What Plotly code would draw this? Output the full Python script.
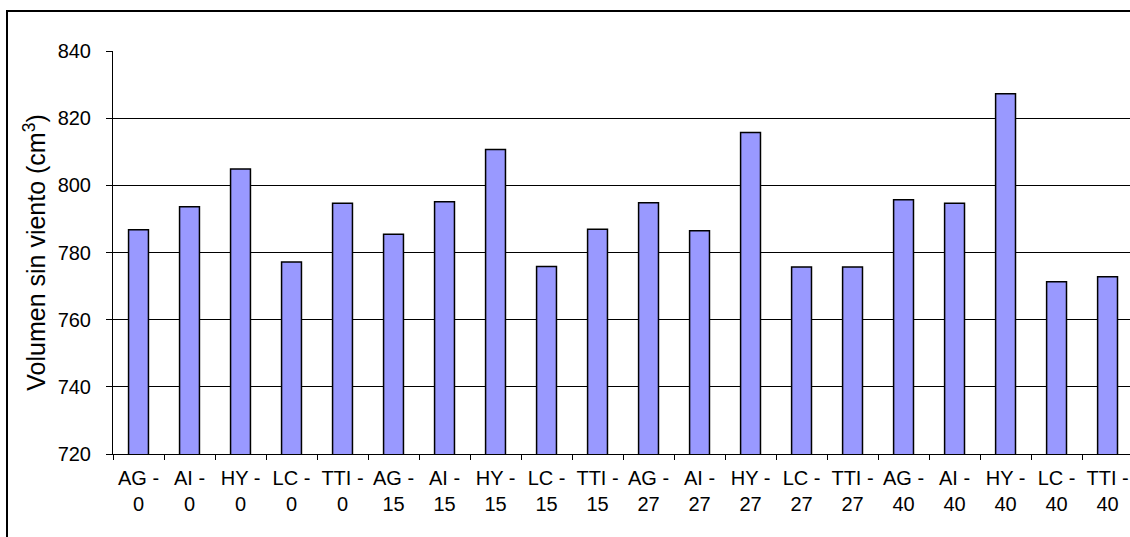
import plotly.graph_objects as go

# Volume without wind for each treatment and wind level
tratamientos = ["AG", "AI", "HY", "LC", "TTI"]
niveles = ["0", "15", "27", "40"]
categorias = [f"{t} -<br>{n}" for n in niveles for t in tratamientos]
volumen = [
    786.8, 793.6, 804.9, 777.2, 794.7,   # 0
    785.4, 795.1, 810.7, 775.8, 786.9,   # 15
    794.8, 786.5, 815.7, 775.7, 775.7,   # 27
    795.7, 794.7, 827.3, 771.3, 772.8,   # 40
]
y_ticks = [720, 740, 760, 780, 800, 820, 840]

W, H = 1130, 537
ML, MR, MT, MB = 113, 0, 51, 83
FONT = "Liberation Sans, Arial, sans-serif"

fig = go.Figure(
    go.Bar(
        x=categorias,
        y=volumen,
        width=0.39,
        marker=dict(color="#9999FF", line=dict(color="#000000", width=1.5)),
    )
)

# Chart frame: top and left edges sit inside the page, the rest runs off it
pw = W - ML - MR
ph = H - MT - MB
def px_x(p):
    return (p - ML) / pw
def px_y(p):
    return 1 - (p - MT) / ph

fig.add_shape(
    type="rect", xref="paper", yref="paper",
    x0=px_x(7), x1=px_x(1145), y0=px_y(560), y1=px_y(11),
    line=dict(color="#000000", width=2), fillcolor="rgba(0,0,0,0)",
    layer="below",
)

fig.update_layout(
    width=W, height=H,
    margin=dict(l=ML, r=MR, t=MT, b=MB, pad=0),
    paper_bgcolor="#FFFFFF",
    plot_bgcolor="#FFFFFF",
    showlegend=False,
    font=dict(family=FONT, size=20, color="#000000"),
)

fig.update_xaxes(
    type="category",
    range=[-0.5, 19.44],
    tickson="boundaries",
    ticks="outside", ticklen=5, tickcolor="#000000", tickwidth=1,
    showline=True, linecolor="#000000", linewidth=1,
    showgrid=False, zeroline=False,
    tickangle=0,
    tickfont=dict(family=FONT, size=20, color="#000000"),
    ticklabelstandoff=6,
)

fig.update_yaxes(
    range=[720, 840],
    tickvals=y_ticks,
    ticks="outside", ticklen=6, tickcolor="#000000", tickwidth=1,
    showline=True, linecolor="#000000", linewidth=1,
    showgrid=True, gridcolor="#000000", gridwidth=1,
    zeroline=False,
    tickfont=dict(family=FONT, size=20, color="#000000"),
    ticklabelstandoff=11,
    title=dict(
        text="Volumen sin viento (cm<sup>3</sup>)",
        font=dict(family=FONT, size=25, color="#000000"),
        standoff=4,
    ),
)

fig.write_html("out.html")
